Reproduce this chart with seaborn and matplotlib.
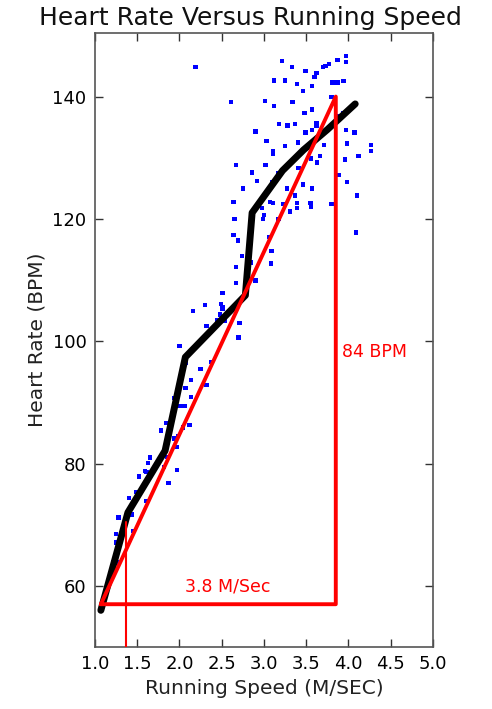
import matplotlib

matplotlib.use("Agg")
import matplotlib.pyplot as plt
import seaborn as sns

# Данные
speed = [
    2.19, 3.21, 3.33, 3.49, 3.12, 3.25, 3.39, 3.46, 2.61, 3.01, 3.12, 3.34,
    3.48, 3.18, 3.28, 3.37, 2.90, 3.49, 3.03, 3.97, 3.97, 3.87, 3.77, 3.73,
    3.70, 3.62, 3.60, 3.81, 3.87, 3.94, 3.57, 3.80, 3.57, 3.94, 3.62, 3.62,
    3.57, 3.97, 4.07, 3.87, 3.71, 3.98, 4.27, 4.27, 3.56, 3.66, 3.63, 3.96,
    4.12, 3.88, 3.98, 3.46, 3.57, 4.10, 3.55, 3.56, 3.80, 4.09, 3.40, 3.25,
    3.11, 3.11, 2.67, 3.02, 3.41, 2.86, 3.17, 2.92, 3.10, 2.75, 3.27, 3.37,
    2.64, 3.07, 3.11, 3.23, 3.39, 2.98, 3.39, 3.31, 2.65, 3.00, 2.99, 3.17,
    2.64, 2.69, 2.74, 2.84, 3.06, 3.09, 3.08, 2.67, 2.67, 2.90, 2.51, 2.30,
    2.49, 2.51, 2.51, 2.16, 2.48, 2.45, 2.54, 2.71, 2.32, 2.70, 2.23, 2.00,
    2.08, 2.38, 2.25, 2.14, 2.32, 2.07, 2.14, 1.94, 2.00, 2.06, 1.84, 2.12,
    2.04, 1.78, 1.94, 1.98, 1.97, 1.65, 1.63, 1.86, 1.82, 1.52, 1.59, 1.61,
    1.97, 1.87, 1.49, 1.40, 1.61, 1.28, 1.44, 1.45, 1.25, 1.25, 1.27, 1.21,
    1.27, 1.18,
]
heart_rate = [
    144.8, 145.8, 144.8, 144.2, 142.6, 142.6, 142.1, 140.9, 139.1, 139.3, 138.5, 139.1,
    137.3, 135.5, 135.3, 135.5, 134.3, 134.1, 132.7, 146.6, 145.7, 146.0, 145.3, 145.0,
    144.8, 143.9, 143.2, 142.3, 142.3, 142.5, 141.7, 139.9, 137.9, 137.3, 135.7, 135.3,
    134.5, 134.5, 134.1, 136.8, 132.1, 132.3, 132.1, 131.1, 129.9, 130.3, 129.2, 129.7,
    130.3, 127.2, 126.0, 125.6, 125.0, 123.8, 122.6, 122.0, 122.4, 117.8, 132.5, 131.9,
    131.1, 130.7, 128.8, 128.8, 128.3, 127.6, 127.4, 126.2, 126.0, 125.0, 125.0, 123.8,
    122.8, 122.8, 122.6, 122.4, 122.6, 121.8, 121.8, 121.2, 120.0, 120.6, 120.0, 120.0,
    117.4, 116.5, 113.9, 112.9, 117.0, 114.8, 112.7, 112.1, 109.5, 109.9, 107.9, 105.9,
    106.1, 105.6, 105.3, 104.9, 104.4, 103.4, 103.4, 103.0, 102.5, 100.6, 99.6, 99.2,
    96.5, 96.6, 95.5, 93.7, 92.8, 92.4, 90.9, 90.7, 89.4, 89.4, 86.6, 86.3,
    85.9, 85.4, 84.1, 84.5, 82.7, 81.0, 80.1, 81.1, 79.4, 77.9, 78.8, 78.6,
    78.9, 76.8, 75.3, 74.4, 73.9, 71.2, 71.7, 69.0, 68.5, 67.1, 66.2, 63.8,
    63.8, 60.5,
]

# Сглаженная кривая
fit_speed = [1.07, 1.39, 1.83, 2.07, 2.78, 2.86, 3.22, 3.47, 3.75, 4.08]
fit_hr = [56.0, 72.0, 82.1, 97.4, 107.5, 121.0, 127.9, 131.3, 134.6, 138.8]

# Треугольник наклона
tri_speed = [1.07, 3.85, 3.85, 1.07]
tri_hr = [57.0, 57.0, 140.0, 57.0]
marker_speed = 1.37
marker_hr = 70.4

x_ticks = [1.0, 1.5, 2.0, 2.5, 3.0, 3.5, 4.0, 4.5, 5.0]
y_ticks = [60, 80, 100, 120, 140]

sns.set_theme(style="white")
plt.rcParams["font.family"] = ["DejaVu Sans"]

fig = plt.figure(figsize=(4.92, 7.09), dpi=100)
ax = fig.add_axes([0.193, 0.0874, 0.687, 0.8661])

sns.scatterplot(
    x=speed, y=heart_rate, ax=ax, marker="s", s=10, color="#0000ff",
    edgecolor="none", linewidth=0, zorder=2,
)
sns.lineplot(
    x=fit_speed, y=fit_hr, ax=ax, color="black", linewidth=5.0,
    sort=False, estimator=None, zorder=3,
)
ax.lines[-1].set_solid_joinstyle("round")
ax.lines[-1].set_solid_capstyle("round")

ax.plot(tri_speed, tri_hr, color="#ff0000", linewidth=2.8, zorder=4)
ax.plot([marker_speed, marker_speed], [50, marker_hr], color="#ff0000",
        linewidth=1.5, zorder=4)

ax.text(3.92, 98.3, "84 BPM", color="#ff0000", fontsize=12.5,
        ha="left", va="center")
ax.text(2.07, 59.9, "3.8 M/Sec", color="#ff0000", fontsize=12.5,
        ha="left", va="center")

ax.set_xlim(1.0, 5.0)
ax.set_ylim(50, 150.4)
ax.set_xticks(x_ticks)
ax.set_yticks(y_ticks)
ax.set_xticklabels([f"{t:.1f}" for t in x_ticks])
ax.tick_params(direction="in", length=6, width=1, colors="#333333",
               labelcolor="black", labelsize=13,
               top=True, right=True, bottom=True, left=True, pad=6)
for s in ax.spines.values():
    s.set_color("#555555")
    s.set_linewidth(1.2)

ax.set_xlabel("Running Speed (M/SEC)", fontsize=14.5, color="#222222")
ax.set_ylabel("Heart Rate (BPM)", fontsize=14.5, color="#222222")
ax.set_title("Heart Rate Versus Running Speed", fontsize=18, x=0.459,
             color="#111111", pad=6)

fig.savefig("out.png", dpi=100)
